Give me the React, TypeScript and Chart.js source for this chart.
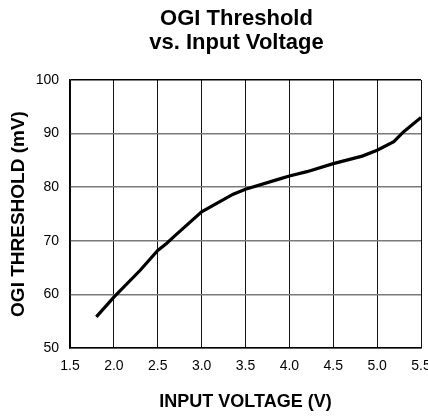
import React, { useEffect, useRef } from "react";
import { Chart, registerables } from "chart.js";

Chart.register(...registerables);

const voltage = [1.8, 2.0, 2.3, 2.5, 2.6, 2.7, 3.0, 3.36, 3.5, 3.9, 4.0, 4.2, 4.5, 4.83, 5.0, 5.19, 5.3, 5.5];
const threshold = [55.8, 59.5, 64.5, 68.2, 69.5, 71.0, 75.4, 78.7, 79.6, 81.6, 82.1, 82.9, 84.4, 85.8, 86.9, 88.5, 90.3, 93.0];
const titleLines = ["OGI Threshold", "vs. Input Voltage"];
const xTitle = "INPUT VOLTAGE (V)";
const yTitle = "OGI THRESHOLD (mV)";
const xMin = 1.5, xMax = 5.5, xStep = 0.5;
const yMin = 50, yMax = 100, yStep = 10;

export default function App() {
  const ref = useRef<HTMLCanvasElement | null>(null);
  useEffect(() => {
    if (!ref.current) return;
    const family = "'Liberation Sans', Arial, Helvetica, sans-serif";
    const chart = new Chart(ref.current, {
      type: "scatter",
      data: {
        datasets: [
          {
            data: voltage.map((v, i) => ({ x: v, y: threshold[i] })),
            showLine: true,
            borderColor: "#000",
            borderWidth: 3.2,
            pointRadius: 0,
            tension: 0,
            fill: false,
          },
        ],
      },
      options: {
        responsive: false,
        animation: false,
        events: [],
        layout: { padding: 0 },
        plugins: {
          legend: { display: false },
          tooltip: { enabled: false },
          title: {
            display: true,
            text: titleLines,
            color: "#000",
            fullSize: true,
            font: { family, size: 22, weight: "bold", lineHeight: 1.1 },
            padding: { top: 7, bottom: 24.6 },
          },
        },
        scales: {
          x: {
            type: "linear",
            min: xMin,
            max: xMax,
            afterFit: (s: any) => {
              s.height = 69;
              s.paddingRight = 52;
              s.paddingLeft = 0;
            },
            ticks: {
              stepSize: xStep,
              padding: 10,
              color: "#000",
              font: { family, size: 14 },
              callback: (v: any) => Number(v).toFixed(1),
            },
            grid: {
              drawTicks: false,
              color: "#111",
              lineWidth: 1,
            },
            border: { display: true, color: "#000", width: 1.5 },
            title: {
              display: true,
              text: xTitle,
              color: "#000",
              font: { family, size: 18, weight: "bold", lineHeight: 1.2 },
              padding: { top: 0, bottom: 4 },
            },
          },
          y: {
            type: "linear",
            min: yMin,
            max: yMax,
            afterFit: (s: any) => {
              s.width = 70;
            },
            ticks: {
              stepSize: yStep,
              padding: 11,
              color: "#000",
              font: { family, size: 14 },
            },
            grid: {
              drawTicks: false,
              color: (ctx: any) => (ctx.tick && ctx.tick.value === yMax ? "#000" : "#7a7a7a"),
              lineWidth: 1.5,
            },
            border: { display: true, color: "#000", width: 1.5 },
            title: {
              display: true,
              text: yTitle,
              color: "#000",
              font: { family, size: 19, weight: "bold", lineHeight: 1.2 },
              padding: { top: 7, bottom: 0 },
            },
          },
        },
      },
    } as any);
    return () => chart.destroy();
  }, []);
  return (
    <div
      style={{
        position: "fixed",
        left: 0,
        top: 0,
        width: 428,
        height: 417,
        overflow: "hidden",
        background: "#fff",
      }}
    >
      <canvas ref={ref} width={473} height={417} style={{ display: "block", width: 473, height: 417 }} />
    </div>
  );
}
